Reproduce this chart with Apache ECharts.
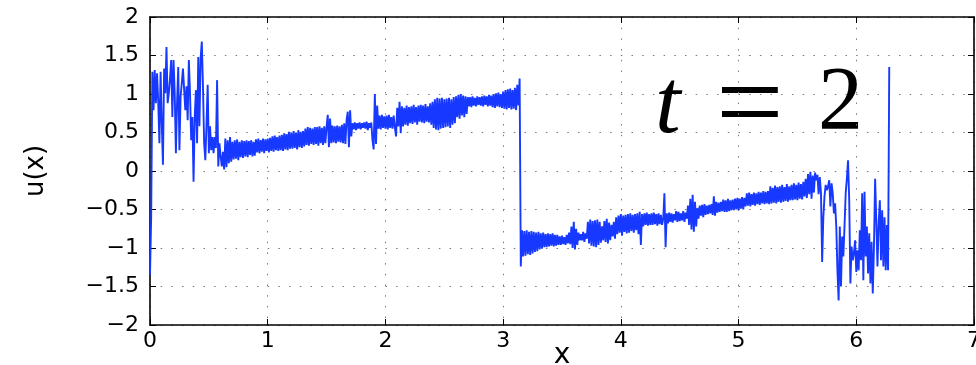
<!DOCTYPE html>
<html>
<head>
<meta charset="utf-8">
<script src="https://cdn.jsdelivr.net/npm/echarts@6/dist/echarts.min.js"></script>
<style>
  html, body { margin: 0; padding: 0; background: #fff; }
  #chart { width: 976px; height: 365px; }
</style>
</head>
<body>
<div id="chart"></div>
<script>
// sample spacing along x
var xStep = 0.01;

// x = 0 .. 0.62 : wild start
var leftStart = 0;
var leftVals = [
  -1.35, -0.6, 1.29, 0.79, 1.31, 0.88, 1.27, 0.9, 0.36, 1.29,
  0.62, 0.08, 1.33, 1.01, 1.61, 0.88, 1.01, 1.2, 1.44, 0.70,
  1.44, 1.01, 0.23, 0.9, 1.35, 0.27, 0.97, 1.14, 1.33, 1.31,
  0.79, 1.1, 0.66, 1.44, 1.01, 0.4, 0.7, -0.14, 0.7, 1.05,
  0.36, 1.48, 0.58, 1.46, 1.68, 1.1, 0.36, 0.14, 0.6, 1.12,
  0.23, 0.58, 0.27, 0.44, 0.23, 0.44, 0.3, 1.18, 0.06, 0.36,
  0.19, 0.06, 0.25
];

// x = 0.63 .. 3.14 : rising ramp
var rampLeftStart = 0.63;
var rampLeftVals = [
  0.02, 0.42, 0.05, 0.40, 0.10, 0.44, 0.12, 0.38,
  0.15, 0.40, 0.16, 0.41, 0.14, 0.38, 0.18, 0.40, 0.17, 0.39,
  0.19, 0.40, 0.18, 0.39, 0.21, 0.40, 0.19, 0.38, 0.20, 0.41,
  0.24, 0.42, 0.23, 0.40, 0.25, 0.42, 0.23, 0.41, 0.26, 0.42,
  0.24, 0.43, 0.26, 0.45, 0.25, 0.46, 0.27, 0.44, 0.26, 0.46,
  0.27, 0.47, 0.26, 0.49, 0.28, 0.48, 0.27, 0.51, 0.29, 0.50,
  0.29, 0.52, 0.30, 0.50, 0.28, 0.53, 0.31, 0.51, 0.30, 0.52,
  0.32, 0.55, 0.34, 0.57, 0.33, 0.56, 0.35, 0.55, 0.34, 0.57,
  0.35, 0.57, 0.33, 0.58, 0.36, 0.56, 0.34, 0.58, 0.36, 0.57,
  0.73, 0.31, 0.68, 0.36, 0.59, 0.37, 0.58, 0.36, 0.59, 0.38,
  0.58, 0.37, 0.60, 0.36, 0.62, 0.35, 0.66, 0.77, 0.31, 0.79,
  0.45, 0.62, 0.54, 0.63, 0.53, 0.62, 0.55, 0.63, 0.54, 0.62,
  0.56, 0.63, 0.55, 0.64, 0.53, 0.62, 0.56, 0.63, 0.40, 0.28,
  1.00, 0.35, 0.85, 0.55, 0.72, 0.54, 0.73, 0.56, 0.71, 0.55,
  0.72, 0.54, 0.73, 0.56, 0.70, 0.55, 0.72, 0.57, 0.45, 0.82,
  0.58, 0.90, 0.49, 0.84, 0.58, 0.82, 0.60, 0.85, 0.59, 0.83,
  0.62, 0.84, 0.61, 0.86, 0.63, 0.83, 0.60, 0.85, 0.64, 0.86,
  0.63, 0.85, 0.62, 0.87, 0.64, 0.84, 0.63, 0.88, 0.60, 0.90,
  0.56, 0.93, 0.54, 0.95, 0.53, 0.94, 0.55, 0.95, 0.56, 0.93,
  0.57, 0.94, 0.58, 0.95, 0.56, 0.93, 0.60, 0.96, 0.62, 0.97,
  0.70, 0.99, 0.68, 1.00, 0.72, 0.98, 0.70, 0.97, 0.74, 0.96,
  0.84, 0.96, 0.83, 0.97, 0.85, 0.95, 0.84, 0.97, 0.86, 0.96,
  0.85, 0.97, 0.84, 0.98, 0.86, 0.97, 0.84, 0.99, 0.85, 0.98,
  0.83, 1.00, 0.82, 1.01, 0.84, 1.02, 0.83, 1.00, 0.82, 1.03,
  0.81, 1.05, 0.80, 1.06, 0.82, 1.07, 0.80, 1.05, 0.81, 1.08,
  0.79, 1.12, 0.85, 1.20
];

// x = 3.15 .. 5.66 : jump down, then second ramp
var rampRightStart = 3.15;
var rampRightVals = [
  -1.24,
  -0.77, -1.11, -0.78, -1.10, -0.77, -1.08, -0.79, -1.09, -0.78, -1.07,
  -0.79, -1.05, -0.80, -1.04, -0.79, -1.02, -0.81, -1.01, -0.80, -0.99,
  -0.82, -0.99, -0.81, -0.98, -0.82, -0.97, -0.81, -0.98, -0.83, -0.97,
  -0.83, -0.96, -0.85, -0.96, -0.84, -0.95, -0.86, -0.96, -0.83, -0.94,
  -0.80, -0.95, -0.72, -1.00, -0.66, -1.02, -0.75, -0.96, -0.80, -0.90,
  -0.82, -0.90, -0.79, -0.92, -0.81, -0.88, -0.66, -0.94, -0.63, -0.97,
  -0.65, -0.98, -0.64, -0.99, -0.63, -0.96, -0.66, -0.93, -0.72, -0.90,
  -0.65, -0.92, -0.62, -0.94, -0.67, -0.90, -0.70, -0.85, -0.66, -0.88,
  -0.60, -0.82, -0.58, -0.80, -0.56, -0.84, -0.58, -0.79, -0.57, -0.81,
  -0.56, -0.80, -0.55, -0.78, -0.57, -0.80, -0.56, -0.77, -0.55, -0.82,
  -0.53, -0.96, -0.56, -0.72, -0.55, -0.70, -0.54, -0.71, -0.56, -0.70,
  -0.55, -0.70, -0.54, -0.69, -0.56, -0.71, -0.55, -0.69, -0.57, -0.70,
  -0.62, -0.29, -0.99, -0.55, -0.68, -0.54, -0.66, -0.55, -0.67, -0.56,
  -0.64, -0.52, -0.66, -0.53, -0.65, -0.55, -0.64, -0.52, -0.66, -0.54,
  -0.62, -0.45, -0.70, -0.36, -0.76, -0.31, -0.79, -0.40, -0.72, -0.48,
  -0.62, -0.45, -0.58, -0.44, -0.60, -0.43, -0.57, -0.45, -0.56, -0.44,
  -0.55, -0.43, -0.57, -0.33, -0.58, -0.40, -0.54, -0.41, -0.53, -0.40,
  -0.52, -0.37, -0.53, -0.38, -0.53, -0.36, -0.52, -0.38, -0.51, -0.37,
  -0.51, -0.36, -0.50, -0.35, -0.51, -0.36, -0.49, -0.34, -0.50, -0.35,
  -0.46, -0.29, -0.45, -0.28, -0.46, -0.30, -0.44, -0.28, -0.45, -0.29,
  -0.43, -0.27, -0.44, -0.28, -0.42, -0.26, -0.43, -0.27, -0.42, -0.26,
  -0.43, -0.20, -0.42, -0.22, -0.41, -0.19, -0.42, -0.21, -0.40, -0.20,
  -0.41, -0.18, -0.40, -0.21, -0.39, -0.17, -0.40, -0.20, -0.38, -0.18,
  -0.38, -0.16, -0.37, -0.18, -0.38, -0.15, -0.36, -0.17, -0.37, -0.14,
  -0.33, -0.10, -0.35, -0.04, -0.30, -0.01, -0.36, -0.06, -0.28, -0.02, -0.12
];

// x = 5.67 .. 6.28 : wild end
var rightStart = 5.67;
var rightVals = [
  -0.05, -0.30, -0.08, -0.28, -1.18, -0.60, -0.33, -0.18, -0.25, -0.20,
  -0.12, -0.46, -0.16, -0.29, -0.55, -0.42, -0.72, -1.30, -1.68, -0.72,
  -1.50, -0.85, -1.11, -0.72, -0.29, -0.10, 0.14, -0.38, -1.46, -0.98,
  -1.16, -1.07, -0.90, -1.31, -1.03, -1.29, -0.77, -1.16, -0.29, -1.42,
  -0.27, -1.11, -0.72, -1.33, -0.81, -1.46, -0.92, -1.59, -1.00, -0.10,
  -0.64, -1.24, -0.68, -0.38, -1.16, -0.51, -1.24, -0.60, -1.29, -0.70,
  -1.29, 1.35
];

var xTicks = { min: 0, max: 7, interval: 1 };
var yTicks = { min: -2, max: 2, interval: 0.5 };

function toPoints(start, vals) {
  return vals.map(function (v, i) {
    return [Math.round((start + i * xStep) * 100) / 100, v];
  });
}

var lineData = []
  .concat(toPoints(leftStart, leftVals))
  .concat(toPoints(rampLeftStart, rampLeftVals))
  .concat(toPoints(rampRightStart, rampRightVals))
  .concat(toPoints(rightStart, rightVals));

function minusFmt(v) {
  return String(v).replace('-', '\u2212');
}

var tickFont = { color: '#000', fontFamily: 'DejaVu Sans', fontSize: 22 };
var gridLine = { show: true, lineStyle: { color: '#7a7a7a', width: 1, type: [1.5, 9.2] } };
var boxLine = { show: true, onZero: false, lineStyle: { color: '#000', width: 1.6 } };
var inTick = { show: true, inside: true, length: 6, lineStyle: { color: '#000' } };

var chart = echarts.init(document.getElementById('chart'));
chart.setOption({
  animation: false,
  backgroundColor: '#fff',
  grid: { left: 150, right: 2, top: 17, bottom: 40, outerBoundsMode: 'none', containLabel: false },
  xAxis: [
    {
      type: 'value', min: xTicks.min, max: xTicks.max, interval: xTicks.interval,
      name: 'x', nameLocation: 'middle', nameGap: 17, nameMoveOverlap: false,
      nameTextStyle: { color: '#000', fontFamily: 'DejaVu Sans', fontSize: 28 },
      axisLine: boxLine,
      axisTick: inTick,
      axisLabel: Object.assign({ margin: 5, formatter: minusFmt, hideOverlap: false }, tickFont),
      splitLine: gridLine
    },
    {
      type: 'value', position: 'top', min: xTicks.min, max: xTicks.max, interval: xTicks.interval,
      axisLine: boxLine,
      axisTick: inTick,
      axisLabel: { show: false },
      splitLine: { show: false }
    }
  ],
  yAxis: [
    {
      type: 'value', min: yTicks.min, max: yTicks.max, interval: yTicks.interval,
      name: 'u(x)', nameLocation: 'middle', nameGap: 101, nameRotate: 90, nameMoveOverlap: false,
      nameTextStyle: { color: '#000', fontFamily: 'DejaVu Sans', fontSize: 26 },
      axisLine: boxLine,
      axisTick: inTick,
      axisLabel: Object.assign({ margin: 11, formatter: minusFmt, hideOverlap: false }, tickFont),
      splitLine: gridLine
    },
    {
      type: 'value', position: 'right', min: yTicks.min, max: yTicks.max, interval: yTicks.interval,
      axisLine: boxLine,
      axisTick: inTick,
      axisLabel: { show: false },
      splitLine: { show: false }
    }
  ],
  graphic: [
    { type: 'text', left: 655, top: 62, style: { text: 't', font: 'italic 92px "Liberation Serif"', fill: '#000' } },
    { type: 'text', left: 716, top: 50, style: { text: '=', font: '120px "Liberation Serif"', fill: '#000' } },
    { type: 'text', left: 818, top: 60, style: { text: '2', font: '90px "Liberation Serif"', fill: '#000' } }
  ],
  series: [
    {
      type: 'line',
      xAxisIndex: 0,
      yAxisIndex: 0,
      data: lineData,
      showSymbol: false,
      symbol: 'none',
      sampling: null,
      lineStyle: { color: '#1638ff', width: 1.9 }
    }
  ]
});
</script>
</body>
</html>
